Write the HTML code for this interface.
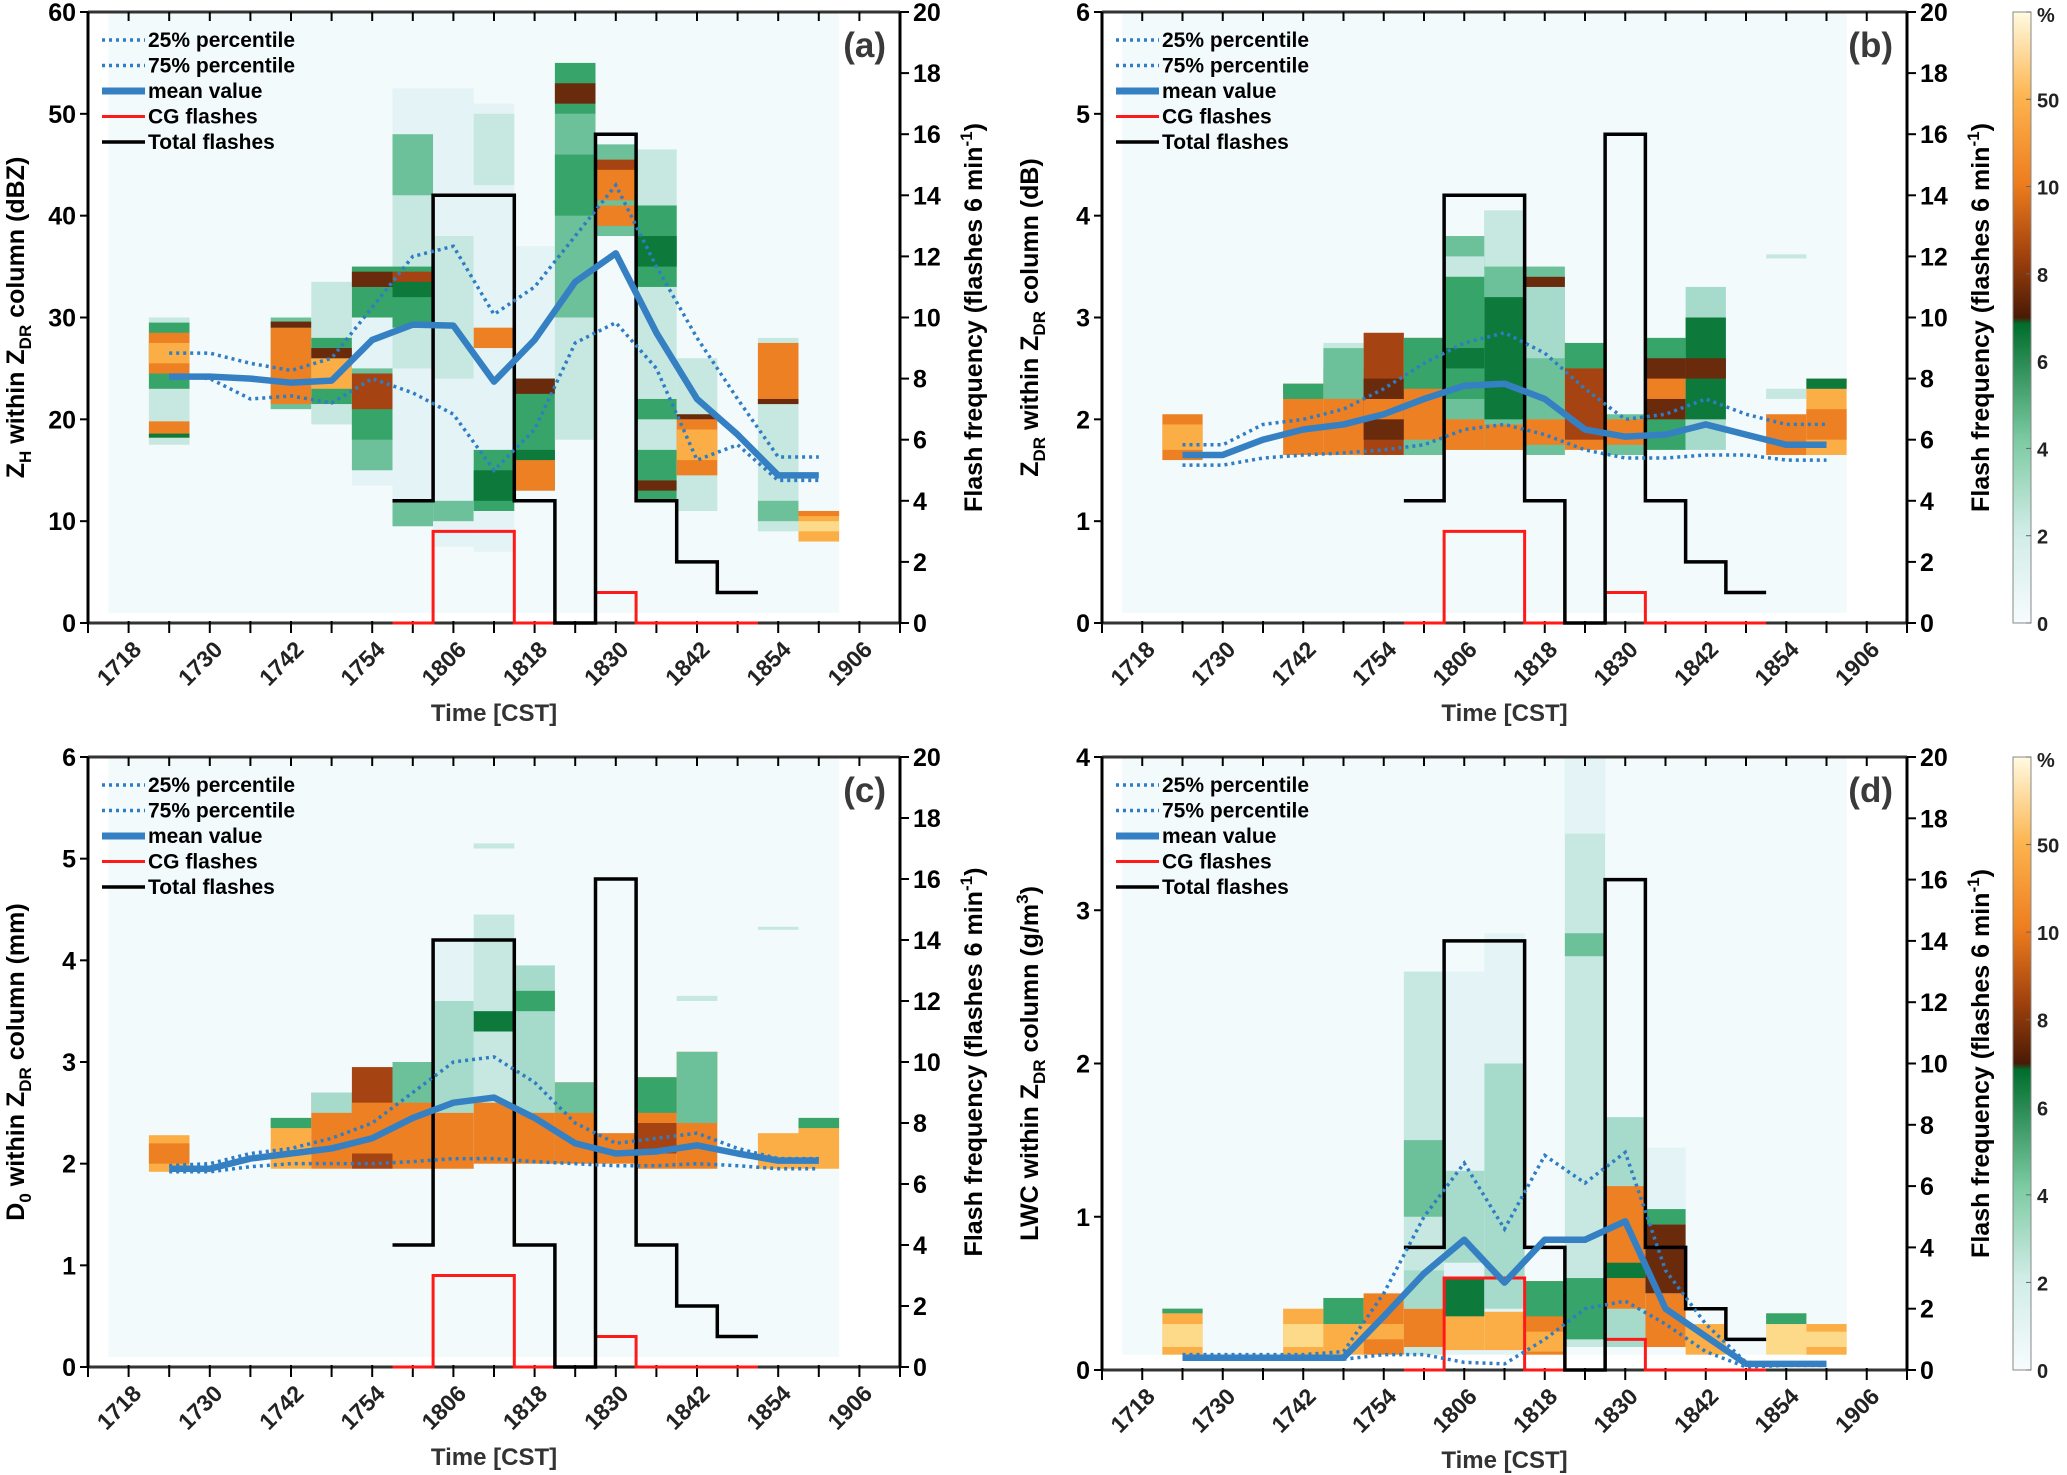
<!DOCTYPE html>
<html><head><meta charset="utf-8"><style>
html,body{margin:0;padding:0;background:#fff;}
svg{display:block;font-family:"Liberation Sans Narrow","Liberation Sans",sans-serif;font-weight:bold;}
</style></head><body>
<svg id="fig" xmlns="http://www.w3.org/2000/svg" width="2067" height="1475" viewBox="0 0 2067 1475">
<defs>
<linearGradient id="cbg" x1="0" y1="1" x2="0" y2="0">
<stop offset="0" stop-color="#f7fcfd"/><stop offset="0.15" stop-color="#d0ece6"/><stop offset="0.3" stop-color="#7ccaa2"/><stop offset="0.49" stop-color="#006d2c"/><stop offset="0.5" stop-color="#4a1a05"/><stop offset="0.6" stop-color="#a0410d"/><stop offset="0.72" stop-color="#ee7d1e"/><stop offset="0.86" stop-color="#fdb44e"/><stop offset="1" stop-color="#fffbe2"/>
</linearGradient>
</defs>
</svg>
<script>
const times=["1724","1730","1736","1742","1748","1754","1800","1806","1812","1818","1824","1830","1836","1842","1848","1854","1900"];
const tickLabels=["1718","1730","1742","1754","1806","1818","1830","1842","1854","1906"];
const aMean=[24.2,24.2,24.0,23.6,23.8,27.8,29.3,29.2,23.7,27.8,33.5,36.3,28.5,22,18.5,14.5,14.5];
const aP75=[26.5,26.5,25.5,24.8,26,31,36,37,30.3,33,38,43,35,28,22,16.3,16.3];
const aP25=[24.3,24,22,22.3,21.6,24,22.6,20.5,15,19,27.5,29.5,25,16,17.5,14,14];
const bMean=[1.65,1.65,1.8,1.9,1.95,2.05,2.2,2.33,2.35,2.2,1.9,1.83,1.85,1.95,1.85,1.75,1.75];
const bP75=[1.75,1.75,1.95,2.0,2.1,2.3,2.55,2.75,2.85,2.65,2.3,2.0,2.05,2.2,2.05,1.95,1.95];
const bP25=[1.55,1.55,1.62,1.65,1.67,1.7,1.75,1.9,1.95,1.85,1.7,1.62,1.62,1.65,1.65,1.6,1.6];
const cMean=[1.95,1.95,2.05,2.1,2.15,2.25,2.45,2.6,2.65,2.45,2.2,2.1,2.12,2.18,2.1,2.03,2.03];
const cP75=[1.98,2.0,2.1,2.15,2.25,2.4,2.7,3.0,3.05,2.8,2.4,2.2,2.25,2.3,2.15,2.05,2.05];
const cP25=[1.92,1.92,1.97,2.0,2.0,2.0,2.02,2.05,2.05,2.02,2.0,1.98,1.98,2.0,1.98,1.95,1.95];
const dMean=[0.08,0.08,0.08,0.08,0.08,0.35,0.63,0.85,0.57,0.85,0.85,0.97,0.4,0.22,0.04,0.04,0.04];
const dP75=[0.1,0.1,0.1,0.1,0.12,0.5,1.0,1.35,0.92,1.4,1.22,1.42,0.65,0.3,0.05,0.04,0.04];
const dP25=[0.07,0.07,0.07,0.07,0.07,0.1,0.1,0.05,0.04,0.2,0.4,0.45,0.3,0.12,0.02,0.03,0.03];
const flashTimes=["1800","1806","1812","1818","1824","1830","1836","1842","1848"];
const flashTotal=[4,14,14,4,0,16,4,2,1];
const flashCG=[0,3,3,0,0,1,0,0,0];
const cbLabels=["0","2","4","6","8","10","50","%"];
const palette=["#e3f3f6","#c6e8e0","#a6dbcb","#6cc19a","#37a46a","#0d7a3c","#6a2a0c","#a54312","#ee8024","#fbae45","#fdd98a"];
const aHeat=[["1724",17.5,30,1],["1724",23,29.5,4],["1724",24.5,28.5,8],["1724",25.5,27.5,9],["1724",18.2,19.8,8],["1724",18.2,18.6,5],
["1742",21,30,3],["1742",21.5,29,8],["1742",29,29.6,6],
["1748",19.5,33.5,1],["1748",21.5,28,4],["1748",23,26,9],["1748",26,27,6],
["1754",13.5,35,0],["1754",15,25,3],["1754",18,23,4],["1754",21,24.5,7],["1754",30,35,4],["1754",33,34.5,6],
["1800",9.5,52.5,0],["1800",25,42,1],["1800",42,48,3],["1800",29,35,4],["1800",32,34,5],["1800",33.5,34.5,7],["1800",9.5,12,3],
["1806",7.5,52.5,0],["1806",24,38,1],["1806",10,12,3],
["1812",7,51,0],["1812",43,50,1],["1812",27,29,8],["1812",11,17,4],["1812",12,15,5],
["1818",13,37,0],["1818",13,24,4],["1818",13,16,8],["1818",22.5,24,6],["1818",16,17,5],
["1824",18,55,1],["1824",30,50,3],["1824",50,55,4],["1824",51,53,6],["1824",40,46,4],
["1830",38,47,3],["1830",39,41,8],["1830",41.5,45.5,8],["1830",44.5,45.5,7],
["1836",12,46.5,1],["1836",33,41,4],["1836",35,38,5],["1836",12,22,4],["1836",13,14,6],["1836",17,20,1],
["1842",11,26,1],["1842",14.5,20,8],["1842",16,19,9],["1842",20,20.5,6],
["1854",9,28,1],["1854",21.5,27.5,8],["1854",21.5,22,6],["1854",10,12,3],
["1900",8,11,9],["1900",9,10,10],["1900",10.5,11,8]];
const bHeat=[["1724",1.6,2.05,8],["1724",1.7,1.95,9],
["1742",1.65,2.35,8],["1742",2.2,2.35,4],
["1748",1.65,2.5,8],["1748",2.2,2.7,3],["1748",2.7,2.75,1],
["1754",1.65,2.85,7],["1754",1.8,2.4,6],["1754",2.0,2.2,8],
["1800",1.65,2.8,8],["1800",2.3,2.8,4],["1800",1.65,1.8,3],
["1806",1.7,3.8,3],["1806",2.8,3.6,1],["1806",2.2,3.4,4],["1806",1.7,2.0,8],["1806",2.5,2.7,5],
["1812",1.7,4.05,3],["1812",3.5,4.05,1],["1812",2.0,3.2,5],["1812",1.7,1.95,8],
["1818",1.65,3.5,3],["1818",2.6,3.4,2],["1818",3.3,3.4,6],["1818",1.75,2.0,8],
["1824",1.7,2.75,8],["1824",2.5,2.75,4],["1824",1.8,2.5,7],
["1830",1.65,2.05,3],["1830",1.75,2.0,8],
["1836",1.7,2.8,4],["1836",2.0,2.6,6],["1836",2.2,2.4,8],
["1842",1.7,3.3,2],["1842",2.0,3.0,5],["1842",2.4,2.6,6],
["1854",1.65,2.05,8],["1854",2.2,2.3,1],["1854",3.58,3.62,1],
["1900",1.65,2.4,9],["1900",2.3,2.4,5],["1900",1.8,2.1,8]];
const cHeat=[["1724",1.92,2.28,9],["1724",2.0,2.2,8],
["1742",1.95,2.45,9],["1742",2.35,2.45,4],
["1748",1.95,2.7,8],["1748",2.5,2.7,2],
["1754",1.95,2.95,7],["1754",2.1,2.6,8],
["1800",1.95,3.0,8],["1800",2.6,3.0,3],
["1806",1.95,4.2,0],["1806",2.5,3.6,2],["1806",1.95,2.5,8],
["1812",2.0,4.45,1],["1812",3.3,3.5,5],["1812",2.0,2.6,8],["1812",5.1,5.15,1],
["1818",2.0,3.95,2],["1818",3.5,3.7,4],["1818",2.0,2.5,8],
["1824",2.0,2.8,8],["1824",2.5,2.8,3],
["1830",2.0,2.3,8],
["1836",1.95,2.85,8],["1836",2.5,2.85,4],["1836",2.1,2.4,7],
["1842",1.95,3.1,8],["1842",2.4,3.1,3],["1842",3.6,3.65,1],
["1854",1.95,2.3,9],["1854",4.3,4.33,1],
["1900",1.95,2.45,9],["1900",2.35,2.45,4]];
const dHeat=[["1724",0.1,0.4,9],["1724",0.15,0.3,10],["1724",0.37,0.4,4],
["1742",0.1,0.4,9],["1742",0.15,0.3,10],
["1748",0.1,0.47,9],["1748",0.3,0.47,4],
["1754",0.1,0.5,8],["1754",0.2,0.3,9],
["1800",0.1,2.6,1],["1800",1.0,1.5,3],["1800",0.15,0.4,8],["1800",0.4,0.65,2],
["1806",0.1,2.6,0],["1806",0.7,1.3,2],["1806",0.13,0.35,9],["1806",0.35,0.6,5],
["1812",0.1,2.85,0],["1812",0.4,2.0,2],["1812",0.13,0.38,9],
["1818",0.1,0.58,8],["1818",0.35,0.58,4],["1818",0.12,0.25,9],
["1824",0.15,4.0,1],["1824",0.2,0.6,4],["1824",2.7,2.85,3],["1824",3.5,4.0,0],
["1830",0.15,1.65,2],["1830",0.4,1.2,8],["1830",0.6,0.7,5],
["1836",0.15,1.45,0],["1836",0.5,0.95,6],["1836",0.15,0.5,8],["1836",0.95,1.05,4],
["1842",0.1,0.3,9],
["1854",0.1,0.37,10],["1854",0.3,0.37,4],
["1900",0.1,0.3,9],["1900",0.15,0.25,10]];

const NS="http://www.w3.org/2000/svg";
const svg=document.getElementById('fig');
function mk(tag,attrs,parent,text){const e=document.createElementNS(NS,tag);for(const k in attrs)e.setAttribute(k,attrs[k]);if(text!==undefined)e.textContent=text;(parent||svg).appendChild(e);return e;}
function tIdx(t){const h=+t.slice(0,2),m=+t.slice(2);return ((h*60+m)-(17*60+12))/6;}

const panels=[
 {id:'a',x0:88,x1:900,y0:12,y1:623,ymax:60,ystep:10,bgLo:1,heat:aHeat,mean:aMean,p75:aP75,p25:aP25,lab:'(a)',yl:['Z','H',' within Z','DR',' column (dBZ)'],cb:false},
 {id:'b',x0:1102,x1:1907,y0:12,y1:623,ymax:6,ystep:1,bgLo:0.1,heat:bHeat,mean:bMean,p75:bP75,p25:bP25,lab:'(b)',yl:['Z','DR',' within Z','DR',' column (dB)'],cb:true},
 {id:'c',x0:88,x1:900,y0:757,y1:1367,ymax:6,ystep:1,bgLo:0.1,heat:cHeat,mean:cMean,p75:cP75,p25:cP25,lab:'(c)',yl:['D','0',' within Z','DR',' column (mm)'],cb:false},
 {id:'d',x0:1102,x1:1907,y0:757,y1:1370,ymax:4,ystep:1,bgLo:0.1,heat:dHeat,mean:dMean,p75:dP75,p25:dP25,lab:'(d)',yl:['LWC within Z','DR',' column (g/m',"3",')'],cb:true}
];

panels.forEach(p=>{
 const g=mk('g',{});
 
 
 const X=i=>p.x0+(p.x1-p.x0)*i/20;
 const Y=v=>p.y1-(p.y1-p.y0)*v/p.ymax;
 const YF=v=>p.y1-(p.y1-p.y0)*v/20;
 const bg=mk('rect',{x:X(0.5),y:p.y0,width:X(18.5)-X(0.5),height:Y(p.bgLo)-p.y0,fill:'#f2fafb'},g);
 
 
 p.heat.forEach(h=>{
  const i=tIdx(h[0]);
  const r=mk('rect',{x:X(i-0.5),y:Y(h[2]),width:X(i+0.5)-X(i-0.5),height:Math.max(1,Y(h[1])-Y(h[2])),fill:palette[h[3]]},g);
  
  
 });
 // axes frame
 mk('line',{x1:p.x0,y1:p.y0,x2:p.x1,y2:p.y0,stroke:'#333','stroke-width':3},g);
 mk('line',{x1:p.x0,y1:p.y1,x2:p.x1,y2:p.y1,stroke:'#333','stroke-width':3},g);
 mk('line',{x1:p.x0,y1:p.y0,x2:p.x0,y2:p.y1,stroke:'#000','stroke-width':3},g);
 mk('line',{x1:p.x1,y1:p.y0,x2:p.x1,y2:p.y1,stroke:'#000','stroke-width':3},g);
 for(let i=0;i<=20;i++){mk('line',{x1:X(i),y1:p.y1-2,x2:X(i),y2:p.y1+10,stroke:'#000','stroke-width':2},g);mk('line',{x1:X(i),y1:p.y0,x2:X(i),y2:p.y0+9,stroke:'#000','stroke-width':2},g);}
 // flashes
 function stepPts(vals,fn){let pts=[];flashTimes.forEach((t,k)=>{const i=tIdx(t);pts.push([X(i-0.5),fn(vals[k])],[X(i+0.5),fn(vals[k])]);});return pts.map(q=>q.join(',')).join(' ');}
 const cg=mk('polyline',{points:stepPts(flashCG,YF),fill:'none',stroke:'#ff1a1a','stroke-width':3},g);
 
 
 const tot=mk('polyline',{points:stepPts(flashTotal,YF),fill:'none',stroke:'#000','stroke-width':3.5},g);
 
 
 // percentiles and mean
 const pts=arr=>arr.map((v,k)=>X(tIdx(times[k]))+','+Y(v)).join(' ');
 const l75=mk('polyline',{points:pts(p.p75),fill:'none',stroke:'#2f7dc4','stroke-width':3.5,'stroke-dasharray':'3 4'},g);
 
 
 const l25=mk('polyline',{points:pts(p.p25),fill:'none',stroke:'#2f7dc4','stroke-width':3.5,'stroke-dasharray':'3 4'},g);
 
 
 const lm=mk('polyline',{points:pts(p.mean),fill:'none',stroke:'#3580c3','stroke-width':6.5,'stroke-linejoin':'round'},g);
 
 
 tickLabels.forEach((t,k)=>{const x=X(1+2*k)-4,y=p.y1+46;
  const tx=mk('text',{x:x,y:y,'text-anchor':'middle','font-size':23,fill:'#222',transform:`rotate(-45 ${x} ${y})`},g,t);
  
  });
 const xt=mk('text',{x:(p.x0+p.x1)/2,y:p.y1+98,'text-anchor':'middle','font-size':24,fill:'#333'},g,'Time [CST]');
 
 
 for(let v=0;v<=p.ymax+1e-9;v+=p.ystep){mk('line',{x1:p.x0-8,y1:Y(v),x2:p.x0,y2:Y(v),stroke:'#000','stroke-width':2},g);
  const tx=mk('text',{x:p.x0-12,y:Y(v)+9,'text-anchor':'end','font-size':25,fill:'#000'},g,String(Math.round(v)));
  
  }
 for(let v=0;v<=20;v+=2){mk('line',{x1:p.x1,y1:YF(v),x2:p.x1+9,y2:YF(v),stroke:'#000','stroke-width':2},g);
  const tx=mk('text',{x:p.x1+13,y:YF(v)+9,'font-size':25,fill:'#000'},g,String(v));
  
  }
 // y labels
 const cy=(p.y0+p.y1)/2, lx=p.x0-64;
 const yl=mk('text',{x:lx,y:cy,'text-anchor':'middle','font-size':25,fill:'#000',transform:`rotate(-90 ${lx} ${cy})`},g);
 
 
 p.yl.forEach((s,k)=>{const isSub=(k%2==1);const sup=(p.id==='d'&&k===3);
  mk('tspan',isSub?(sup?{'font-size':17,dy:-10}:{'font-size':17,dy:7}):{dy:(k>0?(p.yl[k-1]===('3')?10:-7):0)},yl,s);});
 const rx=p.x1+82;
 const rl=mk('text',{x:rx,y:cy,'text-anchor':'middle','font-size':25,fill:'#000',transform:`rotate(-90 ${rx} ${cy})`},g);
 
 
 mk('tspan',{},rl,'Flash frequency (flashes 6 min');
 mk('tspan',{'font-size':17,dy:-10},rl,'-1');
 mk('tspan',{dy:10},rl,')');
 const pl=mk('text',{x:p.x1-14,y:p.y0+45,'text-anchor':'end','font-size':35,fill:'#3a3a3a'},g,p.lab);
 
 
 // legend
 const lg=mk('g',{},g);
 
 
 const items=[['25% percentile','#2f7dc4',3.5,'3 4'],['75% percentile','#2f7dc4',3.5,'3 4'],['mean value','#3580c3',7,''],['CG flashes','#ff1a1a',3,''],['Total flashes','#000',3.5,'']];
 items.forEach((it,k)=>{const y=p.y0+28+k*25.5;
  mk('line',{x1:p.x0+14,y1:y,x2:p.x0+57,y2:y,stroke:it[1],'stroke-width':it[2],'stroke-dasharray':it[3]},lg);
  const tx=mk('text',{x:p.x0+60,y:y+7,'font-size':21,fill:'#000'},lg,it[0]);
  
  });
 if(p.cb){
  const cx=2013,cw=18;
  const cb=mk('rect',{x:cx,y:p.y0,width:cw,height:p.y1-p.y0,fill:'url(#cbg)',stroke:'#888','stroke-width':1},g);
  
  
  cbLabels.forEach((t,k)=>{const y=p.y1-(p.y1-p.y0)*k/7;
   mk('line',{x1:cx+cw,y1:y,x2:cx+cw-5,y2:y,stroke:'#666','stroke-width':1},g);
   const tx=mk('text',{x:cx+cw+6,y:y+(k===7?10:8),'font-size':20,fill:'#222'},g,t);
   
   });
 }
});
</script>
</body></html>
